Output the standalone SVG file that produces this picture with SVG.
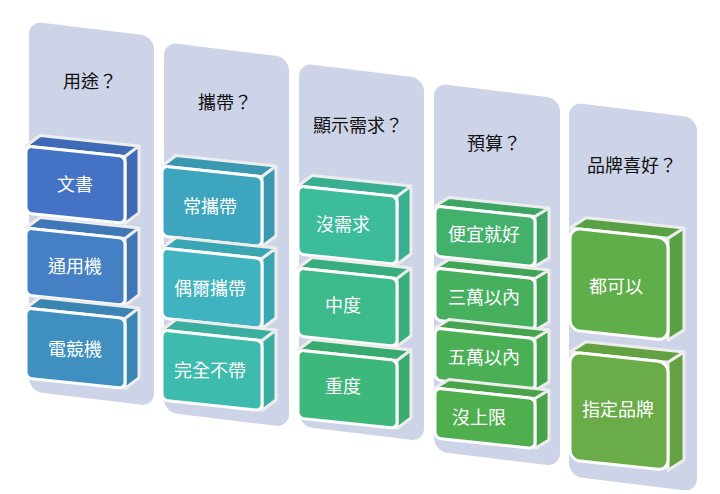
<svg xmlns="http://www.w3.org/2000/svg" width="720" height="494" viewBox="0 0 720 494">
<style>
.p{fill:#ced4e8;stroke:#fff;stroke-width:2}
.f{stroke:#fff;stroke-width:3;stroke-linejoin:round}
.s{stroke:#fff;stroke-width:3;stroke-linejoin:round;filter:brightness(0.93)}
.h{font-family:"Liberation Sans","Noto Sans CJK TC",sans-serif;font-size:18px;fill:#111;text-anchor:middle}
.t{font-family:"Liberation Sans","Noto Sans CJK TC",sans-serif;font-size:18px;fill:#fff;text-anchor:middle}
</style>
<rect width="720" height="494" fill="#fff"/>
<g id="panels">
<rect class="p" transform="translate(28,20) skewY(7)" width="127" height="372" rx="14"/>
<rect class="p" transform="translate(163,41) skewY(7)" width="127" height="372" rx="14"/>
<rect class="p" transform="translate(298,62) skewY(7)" width="127" height="365" rx="14"/>
<rect class="p" transform="translate(433,82) skewY(7)" width="128" height="370" rx="14"/>
<rect class="p" transform="translate(568,101) skewY(7)" width="130" height="376" rx="14"/>
</g>
<g id="headers">
<text class="h" x="90" y="88">用途？</text>
<text class="h" x="225" y="109">攜帶？</text>
<text class="h" x="358" y="132">顯示需求？</text>
<text class="h" x="494" y="150">預算？</text>
<text class="h" x="632" y="172">品牌喜好？</text>
</g>
<g id="c1">
<g id="n-wenshu" transform="translate(26,146) skewY(6)"><path class="s" fill="#4472c4" d="M0,0 L99,0 L113,-12 L14,-12Z M99,0 L113,-12 L113,55 L99,67Z"/><rect class="f" fill="#4472c4" width="99" height="67" rx="6"/></g>
<g id="n-tongyong" transform="translate(26,228) skewY(6)"><path class="s" fill="#4580c4" d="M0,0 L99,0 L113,-12 L14,-12Z M99,0 L113,-12 L113,55 L99,67Z"/><rect class="f" fill="#4580c4" width="99" height="67" rx="6"/></g>
<g id="n-dianjing" transform="translate(26,308) skewY(6)"><path class="s" fill="#3f8fc1" d="M0,0 L99,0 L113,-12 L14,-12Z M99,0 L113,-12 L113,58 L99,70Z"/><rect class="f" fill="#3f8fc1" width="99" height="70" rx="6"/></g>
<text class="t" x="75" y="191">文書</text>
<text class="t" x="75" y="273">通用機</text>
<text class="t" x="75" y="356">電競機</text>
</g>
<g id="c2">
<g transform="translate(162,166) skewY(6)"><path class="s" fill="#3ea5be" d="M0,0 L100,0 L114,-12 L14,-12Z M100,0 L114,-12 L114,58 L100,70Z"/><rect class="f" fill="#3ea5be" width="100" height="70" rx="6"/></g>
<g transform="translate(162,248) skewY(6)"><path class="s" fill="#3fb3c0" d="M0,0 L100,0 L114,-12 L14,-12Z M100,0 L114,-12 L114,58 L100,70Z"/><rect class="f" fill="#3fb3c0" width="100" height="70" rx="6"/></g>
<g transform="translate(162,330) skewY(6)"><path class="s" fill="#3dbbad" d="M0,0 L100,0 L114,-12 L14,-12Z M100,0 L114,-12 L114,58 L100,70Z"/><rect class="f" fill="#3dbbad" width="100" height="70" rx="6"/></g>
<text class="t" x="210" y="213">常攜帶</text>
<text class="t" x="210" y="295">偶爾攜帶</text>
<text class="t" x="210" y="377">完全不帶</text>
</g>
<g id="c3">
<g transform="translate(298,186) skewY(6)"><path class="s" fill="#3cbc9b" d="M0,0 L99,0 L113,-12 L14,-12Z M99,0 L113,-12 L113,56 L99,68Z"/><rect class="f" fill="#3cbc9b" width="99" height="68" rx="6"/></g>
<g transform="translate(298,268) skewY(6)"><path class="s" fill="#3cba89" d="M0,0 L99,0 L113,-12 L14,-12Z M99,0 L113,-12 L113,56 L99,68Z"/><rect class="f" fill="#3cba89" width="99" height="68" rx="6"/></g>
<g transform="translate(298,350) skewY(6)"><path class="s" fill="#3db87a" d="M0,0 L99,0 L113,-12 L14,-12Z M99,0 L113,-12 L113,56 L99,68Z"/><rect class="f" fill="#3db87a" width="99" height="68" rx="6"/></g>
<text class="t" x="343" y="231">沒需求</text>
<text class="t" x="343" y="312">中度</text>
<text class="t" x="343" y="393">重度</text>
</g>
<g id="c4">
<g transform="translate(435,206) skewY(6)"><path class="s" fill="#43b06b" d="M0,0 L100,0 L114,-10 L14,-10Z M100,0 L114,-10 L114,40 L100,50Z"/><rect class="f" fill="#43b06b" width="100" height="50" rx="6"/></g>
<g transform="translate(435,268) skewY(6)"><path class="s" fill="#47b05e" d="M0,0 L100,0 L114,-10 L14,-10Z M100,0 L114,-10 L114,42 L100,52Z"/><rect class="f" fill="#47b05e" width="100" height="52" rx="6"/></g>
<g transform="translate(435,328) skewY(6)"><path class="s" fill="#4bb055" d="M0,0 L100,0 L114,-10 L14,-10Z M100,0 L114,-10 L114,42 L100,52Z"/><rect class="f" fill="#4bb055" width="100" height="52" rx="6"/></g>
<g transform="translate(435,388) skewY(6)"><path class="s" fill="#4faf4f" d="M0,0 L100,0 L114,-10 L14,-10Z M100,0 L114,-10 L114,40 L100,50Z"/><rect class="f" fill="#4faf4f" width="100" height="50" rx="6"/></g>
<text class="t" x="484" y="241">便宜就好</text>
<text class="t" x="484" y="304">三萬以內</text>
<text class="t" x="484" y="364">五萬以內</text>
<text class="t" x="479" y="424">沒上限</text>
</g>
<g id="c5">
<g transform="translate(570,228) skewY(6)"><path class="s" fill="#5fae4a" d="M0,0 L98,0 L114,-12 L16,-12Z M98,0 L114,-12 L114,90 L98,102Z"/><rect class="f" fill="#5fae4a" width="98" height="102" rx="10"/></g>
<g transform="translate(570,352) skewY(6)"><path class="s" fill="#6aad48" d="M0,0 L98,0 L114,-12 L16,-12Z M98,0 L114,-12 L114,96 L98,108Z"/><rect class="f" fill="#6aad48" width="98" height="108" rx="10"/></g>
<text class="t" x="616" y="293">都可以</text>
<text class="t" x="618" y="416">指定品牌</text>
</g>
</svg>
